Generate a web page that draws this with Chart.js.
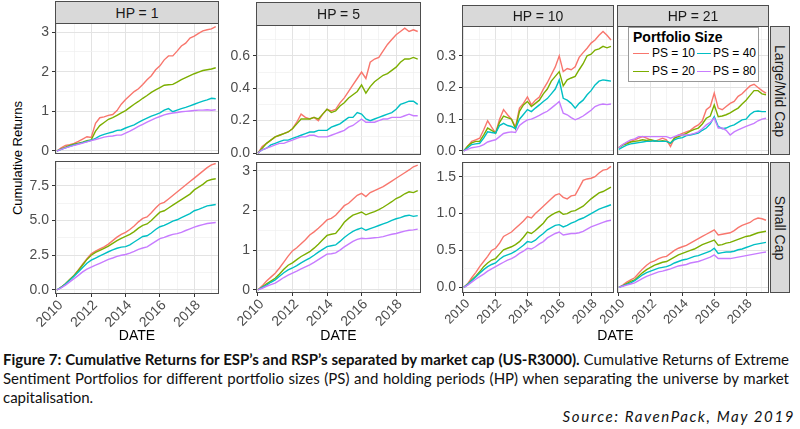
<!DOCTYPE html>
<html>
<head>
<meta charset="utf-8">
<script src="https://cdn.jsdelivr.net/npm/chart.js@4.4.1/dist/chart.umd.min.js"></script>
<style>
html, body { margin: 0; padding: 0; }
body { width: 800px; height: 429px; position: relative; overflow: hidden; background: #fff; font-family: "Liberation Sans", Arial, sans-serif; }
canvas { position: absolute; }
.strip { position: absolute; box-sizing: border-box; background: #d9d9d9; border: 1px solid #4d4d4d; color: #1a1a1a; font-size: 14px; display: flex; align-items: center; justify-content: center; white-space: nowrap; }
.strip.v span { transform: rotate(90deg); }
.lab { position: absolute; color: #000; font-size: 14px; white-space: nowrap; }
#ytitle { position: absolute; left: 17px; top: 158px; transform: translate(-50%, -50%) rotate(-90deg); font-size: 13px; color: #000; white-space: nowrap; }
#legend { position: absolute; left: 628px; top: 27px; width: 131px; height: 55px; box-sizing: border-box; background: #fff; border: 1px solid #9a9a9a; }
#legend .t { position: absolute; left: 4px; top: 1px; font-weight: bold; font-size: 14px; color: #000; }
#legend .k { position: absolute; height: 0; border-top: 1.4px solid; width: 15px; }
#legend .n { position: absolute; font-size: 12px; color: #000; white-space: nowrap; }
.cap { position: absolute; left: 3px; font-family: Lato, "Open Sans", sans-serif; font-size: 15px; line-height: 19px; white-space: nowrap; color: #111; }
#src { position: absolute; right: 5px; top: 407px; font-family: Lato, sans-serif; font-style: italic; font-size: 15px; letter-spacing: 1.6px; color: #111; white-space: nowrap; }
</style>
</head>
<body>
<div id="ytitle">Cumulative Returns</div>
<div class="cap" id="cap1" style="top:350px"><b>Figure 7: Cumulative Returns for ESP’s and RSP’s separated by market cap (US-R3000).</b> Cumulative Returns of Extreme</div>
<div class="cap" id="cap2" style="top:369px">Sentiment Portfolios for different portfolio sizes (PS) and holding periods (HP) when separating the universe by market</div>
<div class="cap" id="cap3" style="top:388px">capitalisation.</div>
<div id="src">Source: RavenPack, May 2019</div>
<script>
// quarterly observation dates
const dates = [2010, 2010.25, 2010.5, 2010.75, 2011, 2011.25, 2011.5, 2011.75, 2012, 2012.25, 2012.5, 2012.75,
  2013, 2013.25, 2013.5, 2013.75, 2014, 2014.25, 2014.5, 2014.75, 2015, 2015.25, 2015.5, 2015.75,
  2016, 2016.25, 2016.5, 2016.75, 2017, 2017.25, 2017.5, 2017.75, 2018, 2018.25, 2018.5, 2018.75, 2019, 2019.25];

const series = ['PS = 10', 'PS = 20', 'PS = 40', 'PS = 80'];
const colors = ['#F8766D', '#7CAE00', '#00BFC4', '#C77CFF'];
const holdingPeriods = ['HP = 1', 'HP = 5', 'HP = 10', 'HP = 21'];
const capGroups = ['Large/Mid Cap', 'Small Cap'];

const xYears = [2010, 2011, 2012, 2013, 2014, 2015, 2016, 2017, 2018, 2019];
const xLabels = ['2010', '', '2012', '', '2014', '', '2016', '', '2018', ''];

const yTicksHP1L = [0, 1, 2, 3], yLabelsHP1L = ['0', '1', '2', '3'];
const yTicksHP1S = [0, 2.5, 5, 7.5], yLabelsHP1S = ['0.0', '2.5', '5.0', '7.5'];
const yTicksHP5L = [0, 0.2, 0.4, 0.6], yLabelsHP5L = ['0.0', '0.2', '0.4', '0.6'];
const yTicksHP5S = [0, 1, 2, 3], yLabelsHP5S = ['0', '1', '2', '3'];
const yTicksHP10L = [0, 0.1, 0.2, 0.3], yLabelsHP10L = ['0.0', '0.1', '0.2', '0.3'];
const yTicksHP10S = [0, 0.5, 1, 1.5], yLabelsHP10S = ['0.0', '0.5', '1.0', '1.5'];

// HP = 1, Large/Mid Cap
const hp1L_10 = [0.00,0.08,0.14,0.16, 0.19,0.24,0.30,0.36, 0.34,0.70,0.84,0.86, 0.90,0.92,1.02,1.18, 1.30,1.40,1.50,1.57, 1.68,1.80,1.90,2.05, 2.15,2.30,2.40,2.40, 2.52,2.65,2.72,2.85, 2.90,2.97,3.03,3.06, 3.08,3.14];
const hp1L_20 = [0.00,0.05,0.10,0.14, 0.17,0.20,0.22,0.26, 0.28,0.50,0.64,0.72, 0.80,0.84,0.90,0.96, 1.02,1.10,1.18,1.25, 1.33,1.40,1.48,1.54, 1.60,1.66,1.67,1.68, 1.74,1.80,1.85,1.90, 1.95,1.99,2.03,2.05, 2.07,2.10];
const hp1L_40 = [0.00,0.04,0.08,0.12, 0.15,0.18,0.21,0.24, 0.27,0.32,0.38,0.42, 0.45,0.48,0.52,0.53, 0.58,0.62,0.66,0.72, 0.78,0.83,0.88,0.92, 0.96,1.03,1.07,0.99, 1.03,1.07,1.10,1.14, 1.18,1.22,1.26,1.29, 1.33,1.32];
const hp1L_80 = [0.00,0.04,0.08,0.11, 0.14,0.17,0.20,0.23, 0.26,0.29,0.32,0.35, 0.37,0.38,0.40,0.40, 0.45,0.50,0.56,0.62, 0.67,0.73,0.78,0.83, 0.87,0.91,0.94,0.96, 0.97,0.99,1.00,1.01, 1.02,1.03,1.03,1.04, 1.03,1.04];
// HP = 1, Small Cap
const hp1S_10 = [0,0.2,0.45,0.75, 1.05,1.45,1.85,2.25, 2.6,2.8,2.95,3.1, 3.3,3.55,3.8,4.0, 4.15,4.35,4.6,4.9, 5.15,5.25,5.55,5.9, 6.2,6.3,6.55,6.8, 7.05,7.3,7.55,7.8, 8.05,8.3,8.55,8.8, 9.0,9.1];
const hp1S_20 = [0,0.2,0.45,0.75, 1.05,1.4,1.8,2.2, 2.5,2.7,2.85,3.0, 3.15,3.35,3.55,3.72, 3.85,4.0,4.2,4.45, 4.65,4.75,5.0,5.3, 5.6,5.7,5.9,6.1, 6.3,6.5,6.7,6.9, 7.2,7.4,7.6,7.85, 7.95,8.0];
const hp1S_40 = [0,0.18,0.42,0.7, 0.98,1.3,1.62,1.92, 2.15,2.3,2.45,2.6, 2.75,2.88,3.0,3.08, 3.12,3.25,3.45,3.65, 3.85,3.9,4.1,4.35, 4.55,4.65,4.8,4.95, 5.05,5.2,5.35,5.5, 5.7,5.8,5.92,6.05, 6.1,6.15];
const hp1S_80 = [0,0.15,0.35,0.58, 0.82,1.05,1.3,1.5, 1.65,1.78,1.92,2.05, 2.2,2.3,2.42,2.5, 2.55,2.65,2.78,2.92, 3.02,3.1,3.3,3.5, 3.7,3.78,3.9,4.0, 4.05,4.15,4.28,4.4, 4.52,4.62,4.7,4.78, 4.82,4.85];
// HP = 5, Large/Mid Cap
const hp5L_10 = [0.00,0.04,0.06,0.08, 0.10,0.11,0.12,0.13, 0.15,0.19,0.24,0.22, 0.21,0.22,0.20,0.24, 0.27,0.26,0.27,0.31, 0.34,0.38,0.42,0.46, 0.50,0.46,0.56,0.58, 0.59,0.63,0.67,0.70, 0.73,0.75,0.77,0.75, 0.76,0.75];
const hp5L_20 = [0.00,0.03,0.06,0.08, 0.10,0.11,0.12,0.13, 0.15,0.18,0.21,0.21, 0.21,0.22,0.21,0.24, 0.27,0.25,0.26,0.29, 0.31,0.34,0.36,0.38, 0.42,0.37,0.41,0.44, 0.46,0.48,0.49,0.51, 0.53,0.56,0.58,0.58, 0.59,0.58];
const hp5L_40 = [0.00,0.02,0.03,0.05, 0.06,0.07,0.08,0.08, 0.09,0.10,0.11,0.12, 0.13,0.13,0.14,0.14, 0.14,0.16,0.17,0.18, 0.20,0.22,0.22,0.25, 0.24,0.21,0.20,0.21, 0.22,0.23,0.24,0.25, 0.27,0.30,0.31,0.32, 0.32,0.30];
const hp5L_80 = [0.00,0.02,0.03,0.04, 0.05,0.06,0.06,0.07, 0.08,0.09,0.10,0.10, 0.11,0.11,0.10,0.10, 0.10,0.11,0.12,0.13, 0.14,0.16,0.17,0.19, 0.21,0.19,0.19,0.19, 0.20,0.21,0.21,0.22, 0.22,0.22,0.23,0.24, 0.23,0.23];
// HP = 5, Small Cap
const hp5S_10 = [0.00,0.10,0.22,0.32, 0.42,0.55,0.70,0.85, 0.98,1.06,1.16,1.26, 1.38,1.46,1.55,1.65, 1.76,1.80,1.88,2.00, 2.12,2.18,2.28,2.38, 2.43,2.35,2.45,2.50, 2.55,2.60,2.67,2.74, 2.81,2.88,2.95,3.02, 3.10,3.14];
const hp5S_20 = [0.00,0.07,0.15,0.22, 0.29,0.40,0.52,0.62, 0.68,0.76,0.84,0.90, 0.96,1.05,1.15,1.26, 1.37,1.40,1.42,1.55, 1.70,1.80,1.88,1.92, 1.96,1.89,1.93,1.97, 2.02,2.08,2.15,2.22, 2.30,2.35,2.42,2.47, 2.45,2.50];
const hp5S_40 = [0.00,0.06,0.12,0.19, 0.25,0.34,0.43,0.50, 0.55,0.61,0.68,0.74, 0.80,0.87,0.95,1.02, 1.09,1.11,1.13,1.22, 1.32,1.40,1.47,1.52, 1.56,1.50,1.54,1.58, 1.62,1.66,1.70,1.75, 1.79,1.82,1.86,1.88, 1.85,1.87];
const hp5S_80 = [0.00,0.04,0.09,0.13, 0.17,0.24,0.31,0.37, 0.42,0.47,0.53,0.58, 0.63,0.69,0.76,0.83, 0.90,0.91,0.93,1.00, 1.08,1.15,1.22,1.27, 1.30,1.29,1.30,1.31, 1.32,1.34,1.37,1.40, 1.42,1.45,1.48,1.50, 1.51,1.53];
// HP = 10, Large/Mid Cap
const hp10L_10 = [0.000,0.015,0.030,0.035, 0.040,0.066,0.095,0.075, 0.056,0.100,0.130,0.114, 0.100,0.075,0.135,0.150, 0.170,0.145,0.160,0.170, 0.195,0.215,0.240,0.265, 0.300,0.250,0.260,0.256, 0.265,0.295,0.310,0.324, 0.340,0.350,0.365,0.377, 0.365,0.350];
const hp10L_20 = [0.000,0.015,0.025,0.030, 0.030,0.050,0.072,0.065, 0.056,0.090,0.110,0.105, 0.100,0.070,0.125,0.145, 0.156,0.140,0.150,0.160, 0.180,0.195,0.220,0.235, 0.250,0.205,0.224,0.230, 0.235,0.256,0.275,0.300, 0.305,0.318,0.322,0.330, 0.325,0.330];
const hp10L_40 = [0.000,0.010,0.020,0.022, 0.024,0.040,0.060,0.058, 0.056,0.080,0.087,0.080, 0.077,0.070,0.100,0.115, 0.130,0.124,0.135,0.145, 0.156,0.165,0.180,0.195, 0.224,0.166,0.160,0.150, 0.135,0.150,0.160,0.177, 0.190,0.208,0.220,0.224, 0.222,0.220];
const hp10L_80 = [0.000,0.005,0.010,0.012, 0.014,0.020,0.028,0.032, 0.035,0.045,0.055,0.058, 0.060,0.058,0.080,0.090, 0.098,0.100,0.106,0.112, 0.119,0.125,0.135,0.145, 0.156,0.119,0.114,0.105, 0.098,0.103,0.110,0.119, 0.128,0.140,0.145,0.148, 0.146,0.148];
// HP = 10, Small Cap
const hp10S_10 = [0.00,0.05,0.13,0.20, 0.28,0.35,0.42,0.50, 0.53,0.60,0.69,0.72, 0.75,0.80,0.85,0.90, 0.96,0.94,1.00,1.05, 1.10,1.15,1.20,1.25, 1.27,1.22,1.20,1.24, 1.25,1.35,1.45,1.47, 1.48,1.50,1.55,1.59, 1.60,1.64];
const hp10S_20 = [0.00,0.04,0.10,0.15, 0.21,0.28,0.33,0.37, 0.39,0.45,0.51,0.53, 0.55,0.58,0.62,0.68, 0.75,0.73,0.77,0.82, 0.87,0.94,0.98,1.01, 1.03,0.99,1.00,1.03, 1.04,1.07,1.10,1.15, 1.20,1.24,1.28,1.30, 1.33,1.36];
const hp10S_40 = [0.00,0.04,0.09,0.14, 0.19,0.24,0.28,0.31, 0.33,0.38,0.42,0.44, 0.46,0.49,0.53,0.57, 0.62,0.61,0.64,0.69, 0.73,0.78,0.81,0.84, 0.85,0.82,0.84,0.87, 0.89,0.92,0.94,0.97, 1.00,1.03,1.06,1.08, 1.10,1.12];
const hp10S_80 = [0.00,0.03,0.07,0.11, 0.145,0.18,0.22,0.25, 0.28,0.31,0.34,0.37, 0.39,0.42,0.46,0.49, 0.53,0.52,0.55,0.59, 0.62,0.67,0.70,0.73, 0.75,0.71,0.72,0.73, 0.73,0.74,0.76,0.79, 0.82,0.84,0.86,0.88, 0.90,0.91];
// HP = 21, Large/Mid Cap
const hp21L_10 = [0.010,0.020,0.025,0.030, 0.035,0.040,0.045,0.040, 0.035,0.030,0.035,0.040, 0.035,0.014,0.040,0.050, 0.055,0.060,0.065,0.075, 0.082,0.095,0.130,0.140, 0.182,0.135,0.130,0.140, 0.150,0.156,0.172,0.180, 0.193,0.205,0.210,0.200, 0.190,0.182];
const hp21L_20 = [0.010,0.018,0.022,0.028, 0.030,0.032,0.035,0.033, 0.035,0.032,0.030,0.032, 0.030,0.024,0.040,0.045, 0.050,0.055,0.062,0.068, 0.072,0.085,0.103,0.110, 0.145,0.108,0.110,0.114, 0.120,0.128,0.135,0.148, 0.160,0.175,0.190,0.190, 0.180,0.177];
const hp21L_40 = [0.005,0.012,0.018,0.022, 0.024,0.026,0.028,0.030, 0.030,0.032,0.030,0.030, 0.030,0.025,0.035,0.040, 0.042,0.048,0.050,0.053, 0.056,0.065,0.072,0.085, 0.108,0.077,0.070,0.072, 0.078,0.082,0.090,0.098, 0.100,0.115,0.124,0.126, 0.124,0.124];
const hp21L_80 = [0.010,0.020,0.028,0.035, 0.038,0.045,0.045,0.045, 0.045,0.045,0.045,0.045, 0.045,0.040,0.045,0.050, 0.050,0.050,0.052,0.055, 0.060,0.070,0.082,0.090, 0.103,0.072,0.072,0.065, 0.050,0.060,0.066,0.072, 0.077,0.082,0.087,0.095, 0.100,0.103];
// HP = 21, Small Cap
const hp21S_10 = [0.00,0.03,0.07,0.10, 0.13,0.19,0.25,0.30, 0.34,0.36,0.39,0.41, 0.42,0.46,0.50,0.53, 0.55,0.57,0.60,0.63, 0.66,0.69,0.72,0.75, 0.78,0.71,0.72,0.73, 0.74,0.77,0.81,0.84, 0.86,0.88,0.92,0.94, 0.93,0.91];
const hp21S_20 = [0.00,0.02,0.05,0.08, 0.10,0.15,0.20,0.24, 0.27,0.30,0.32,0.34, 0.35,0.38,0.41,0.44, 0.46,0.48,0.50,0.52, 0.55,0.58,0.60,0.62, 0.64,0.57,0.58,0.60, 0.61,0.63,0.65,0.67, 0.69,0.70,0.72,0.74, 0.75,0.76];
const hp21S_40 = [0.00,0.02,0.04,0.06, 0.09,0.13,0.17,0.20, 0.22,0.24,0.26,0.27, 0.28,0.30,0.33,0.35, 0.37,0.38,0.40,0.42, 0.43,0.45,0.47,0.49, 0.53,0.46,0.47,0.48, 0.48,0.49,0.51,0.52, 0.54,0.56,0.58,0.59, 0.60,0.61];
const hp21S_80 = [0.00,0.015,0.03,0.045, 0.06,0.09,0.12,0.15, 0.17,0.19,0.21,0.22, 0.235,0.25,0.27,0.29, 0.30,0.31,0.33,0.34, 0.35,0.37,0.39,0.41, 0.44,0.39,0.39,0.39, 0.39,0.40,0.41,0.42, 0.43,0.44,0.45,0.46, 0.47,0.48];

// panel layout (pixels)
const colL = [55, 256, 462, 617], colR = [219, 421, 614, 769];
const rowTop = [[23, 25, 26, 26], [161, 162, 162, 162]];
const rowBot = [[154, 155, 155, 155], [294, 293, 293, 293]];
const stripTop = [1, 2, 5, 5];
const yAxisW = [55, 50, 45, 30];
const xFont = [14, 14, 13, 13];
const xMin = 2009.89, xMax = 2019.44;

const panels = [
  { row: 0, col: 0, lines: [hp1L_10, hp1L_20, hp1L_40, hp1L_80], yMin: -0.076, yMax: 3.23, ticks: yTicksHP1L, labels: yLabelsHP1L },
  { row: 0, col: 1, lines: [hp5L_10, hp5L_20, hp5L_40, hp5L_80], yMin: -0.012, yMax: 0.79, ticks: yTicksHP5L, labels: yLabelsHP5L },
  { row: 0, col: 2, lines: [hp10L_10, hp10L_20, hp10L_40, hp10L_80], yMin: -0.013, yMax: 0.394, ticks: yTicksHP10L, labels: yLabelsHP10L },
  { row: 0, col: 3, lines: [hp21L_10, hp21L_20, hp21L_40, hp21L_80], yMin: -0.013, yMax: 0.394, ticks: yTicksHP10L, labels: yLabelsHP10L },
  { row: 1, col: 0, lines: [hp1S_10, hp1S_20, hp1S_40, hp1S_80], yMin: -0.29, yMax: 9.28, ticks: yTicksHP1S, labels: yLabelsHP1S },
  { row: 1, col: 1, lines: [hp5S_10, hp5S_20, hp5S_40, hp5S_80], yMin: -0.08, yMax: 3.22, ticks: yTicksHP5S, labels: yLabelsHP5S },
  { row: 1, col: 2, lines: [hp10S_10, hp10S_20, hp10S_40, hp10S_80], yMin: -0.077, yMax: 1.70, ticks: yTicksHP10S, labels: yLabelsHP10S },
  { row: 1, col: 3, lines: [hp21S_10, hp21S_20, hp21S_40, hp21S_80], yMin: -0.077, yMax: 1.70, ticks: yTicksHP10S, labels: yLabelsHP10S }
];

// panel border, like theme_bw
const frame = {
  id: 'frame',
  afterDraw(c) {
    const a = c.chartArea, g = c.ctx;
    g.save();
    g.strokeStyle = '#4d4d4d';
    g.lineWidth = 1;
    g.strokeRect(a.left + 0.5, a.top + 0.5, a.right - a.left - 1, a.bottom - a.top - 1);
    g.restore();
  }
};

function near(list, v) { return list.findIndex(t => Math.abs(t - v) < 1e-9); }

panels.forEach(p => {
  const L = colL[p.col], R = colR[p.col], T = rowTop[p.row][p.col], B = rowBot[p.row][p.col];
  const yw = yAxisW[p.col], xh = p.row ? 42 : 8;
  const showY = p.col < 3, showX = p.row === 1;

  // minor grid halfway between the major ticks
  const step = p.ticks[1] - p.ticks[0];
  const minor = p.ticks.map(t => t + step / 2).filter(v => v < p.yMax);
  const yAll = p.ticks.concat(minor).sort((a, b) => a - b);

  const cv = document.createElement('canvas');
  cv.width = R - L + yw;
  cv.height = B - T + xh;
  cv.style.left = (L - yw) + 'px';
  cv.style.top = T + 'px';
  document.body.appendChild(cv);

  new Chart(cv, {
    type: 'line',
    data: {
      datasets: p.lines.map((vals, k) => ({
        label: series[k],
        data: dates.map((d, i) => ({ x: d, y: vals[i] })),
        borderColor: colors[k],
        borderWidth: 1.4,
        pointRadius: 0,
        tension: 0,
        fill: false,
        order: 3 - k
      }))
    },
    options: {
      responsive: false,
      animation: false,
      layout: { padding: 0 },
      plugins: { legend: { display: false }, tooltip: { enabled: false } },
      scales: {
        x: {
          type: 'linear', min: xMin, max: xMax,
          afterBuildTicks: s => { s.ticks = xYears.map(v => ({ value: v })); },
          afterFit: s => { s.height = xh; s.paddingLeft = 0; s.paddingRight = 0; },
          ticks: {
            display: showX, autoSkip: false, minRotation: 45, maxRotation: 45, padding: 0, labelOffset: 4,
            color: '#4d4d4d', font: { family: 'Liberation Sans', size: xFont[p.col] },
            callback: v => { const i = near(xYears, v); return i >= 0 ? xLabels[i] : ''; }
          },
          grid: {
            color: c => (c.tick && c.tick.value % 2 === 0) ? '#e3e3e3' : '#efefef',
            lineWidth: c => (c.tick && c.tick.value % 2 === 0) ? 1 : 0.7,
            drawTicks: showX, tickLength: 3, tickWidth: 1,
            tickColor: c => (c.tick && c.tick.value % 2 === 0) ? '#333' : 'rgba(0,0,0,0)'
          },
          border: { display: false }
        },
        y: {
          type: 'linear', min: p.yMin, max: p.yMax,
          afterBuildTicks: s => { s.ticks = yAll.map(v => ({ value: v })); },
          afterFit: s => { s.width = yw; s.paddingTop = 0; s.paddingBottom = 0; },
          ticks: {
            display: showY, autoSkip: false, padding: 3,
            color: '#4d4d4d', font: { family: 'Liberation Sans', size: 14 },
            callback: v => { const i = near(p.ticks, v); return i >= 0 ? p.labels[i] : ''; }
          },
          grid: {
            color: c => (c.tick && near(p.ticks, c.tick.value) >= 0) ? '#e3e3e3' : '#efefef',
            lineWidth: c => (c.tick && near(p.ticks, c.tick.value) >= 0) ? 1 : 0.7,
            drawTicks: showY, tickLength: 3, tickWidth: 1,
            tickColor: c => (c.tick && near(p.ticks, c.tick.value) >= 0) ? '#333' : 'rgba(0,0,0,0)'
          },
          border: { display: false }
        }
      }
    },
    plugins: [frame]
  });
});

// facet strips
holdingPeriods.forEach((hp, c) => {
  const d = document.createElement('div');
  d.className = 'strip';
  d.style.left = colL[c] + 'px';
  d.style.top = stripTop[c] + 'px';
  d.style.width = (colR[c] - colL[c]) + 'px';
  d.style.height = (rowTop[0][c] - stripTop[c] + 1) + 'px';
  d.textContent = hp;
  document.body.appendChild(d);
});
capGroups.forEach((g, r) => {
  const d = document.createElement('div');
  d.className = 'strip v';
  d.style.left = '770px';
  d.style.top = rowTop[r][3] + 'px';
  d.style.width = '20px';
  d.style.height = (rowBot[r][3] - rowTop[r][3]) + 'px';
  const s = document.createElement('span');
  s.textContent = g;
  d.appendChild(s);
  document.body.appendChild(d);
});

// x axis titles
[[55, 219], [256, 421], [462, 769]].forEach(([a, b]) => {
  const d = document.createElement('div');
  d.className = 'lab';
  d.textContent = 'DATE';
  d.style.top = '327px';
  d.style.left = ((a + b) / 2) + 'px';
  d.style.transform = 'translateX(-50%)';
  document.body.appendChild(d);
});

// legend inside the HP = 21 panel
const lg = document.createElement('div');
lg.id = 'legend';
lg.innerHTML = '<div class="t">Portfolio Size</div>';
series.forEach((name, k) => {
  const col = k < 2 ? 0 : 1, row = k % 2;
  const key = document.createElement('div');
  key.className = 'k';
  key.style.borderTopColor = colors[k];
  key.style.left = (col ? 68 : 4) + 'px';
  key.style.top = (row ? 43 : 25) + 'px';
  key.style.width = (col ? 14 : 16) + 'px';
  const n = document.createElement('div');
  n.className = 'n';
  n.textContent = name;
  n.style.left = (col ? 84 : 23) + 'px';
  n.style.top = (row ? 36 : 18) + 'px';
  lg.appendChild(key);
  lg.appendChild(n);
});
document.body.appendChild(lg);

// stretch the two full caption lines to the text block width
['cap1', 'cap2'].forEach(id => {
  const el = document.getElementById(id);
  const target = 786;
  const w = el.getBoundingClientRect().width;
  const gaps = (el.textContent.match(/ /g) || []).length;
  if (w > target) {
    el.style.fontSize = (15 * target / w) + 'px';
  } else {
    el.style.wordSpacing = ((target - w) / gaps) + 'px';
  }
});
</script>
</body>
</html>
